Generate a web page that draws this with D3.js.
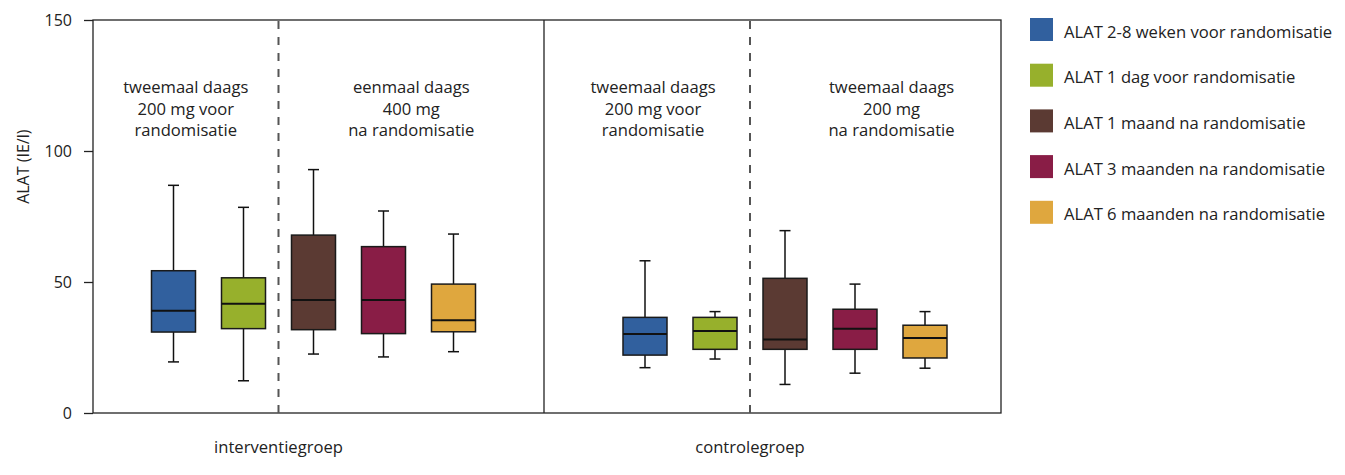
<!DOCTYPE html>
<html>
<head>
<meta charset="utf-8">
<script src="https://cdn.jsdelivr.net/npm/d3@7"></script>
<style>
  html, body { margin: 0; padding: 0; background: #fff; }
  svg { display: block; font-family: "Open Sans", "Noto Sans", sans-serif; }
</style>
</head>
<body>
<svg id="chart" width="1345" height="475"></svg>
<script>
// ---- data ----
const groups = ["interventiegroep", "controlegroep"];
const series = [
  "ALAT 2-8 weken voor randomisatie",
  "ALAT 1 dag voor randomisatie",
  "ALAT 1 maand na randomisatie",
  "ALAT 3 maanden na randomisatie",
  "ALAT 6 maanden na randomisatie"
];
const colors = ["#31609e", "#97b02c", "#5b3a33", "#891d46", "#dfa73e"];
// [min, Q1, median, Q3, max] per series, per group
const interventie = [
  [19.5, 30.9, 39.0, 54.3, 86.9],
  [12.3, 32.2, 41.7, 51.6, 78.5],
  [22.5, 31.8, 43.1, 67.9, 92.9],
  [21.4, 30.3, 43.1, 63.5, 77.1],
  [23.4, 31.0, 35.4, 49.2, 68.3]
];
const controle = [
  [17.3, 22.1, 30.2, 36.5, 58.1],
  [20.6, 24.3, 31.3, 36.5, 38.7],
  [10.9, 24.3, 28.1, 51.4, 69.6],
  [15.2, 24.3, 32.2, 39.6, 49.2],
  [17.1, 21.0, 28.6, 33.5, 38.7]
];
const yTicks = [0, 50, 100, 150];
const annotations = [
  ["tweemaal daags", "200 mg voor", "randomisatie"],
  ["eenmaal daags", "400 mg", "na randomisatie"],
  ["tweemaal daags", "200 mg voor", "randomisatie"],
  ["tweemaal daags", "200 mg", "na randomisatie"]
];

// ---- layout ----
(function () {
const svg = d3.select("#chart");
const pLeft = 93, pRight = 1001, pTop = 20, pBottom = 413, sepX = 544;
const fs = 16.6;
const y = d3.scaleLinear().domain([0, 150]).range([pBottom, pTop]);
const xInner = [
  d3.scalePoint().domain(series).range([173.5, 453.5]),
  d3.scalePoint().domain(series).range([645, 925])
];
const boxW = 44, capW = 11;
const dashX = xInner.map(s => (s(series[1]) + s(series[2])) / 2);

// y axis
const yAxis = d3.axisLeft(y).tickValues(yTicks).tickSize(9).tickPadding(12);
const ga = svg.append("g").attr("transform", `translate(${pLeft},0)`).call(yAxis);
ga.select(".domain").remove();
ga.selectAll(".tick line").attr("stroke", "#222").attr("stroke-width", 1.3);
ga.selectAll(".tick text").attr("font-size", 16).attr("fill", "#222")
  .attr("font-family", "'Open Sans', sans-serif");

svg.append("text")
  .attr("transform", `translate(29,${y(94)}) rotate(-90)`)
  .attr("text-anchor", "middle")
  .attr("font-size", 16).attr("fill", "#222")
  .text("ALAT (IE/l)");

// frame
svg.append("rect").attr("x", pLeft).attr("y", pTop)
  .attr("width", pRight - pLeft).attr("height", pBottom - pTop)
  .attr("fill", "none").attr("stroke", "#222").attr("stroke-width", 1.3);
svg.append("line").attr("x1", sepX).attr("x2", sepX).attr("y1", pTop).attr("y2", pBottom)
  .attr("stroke", "#222").attr("stroke-width", 1.3);
dashX.forEach(dx => {
  svg.append("line").attr("x1", dx).attr("x2", dx).attr("y1", pTop + 1).attr("y2", pBottom)
    .attr("stroke", "#555").attr("stroke-width", 2).attr("stroke-dasharray", "8,8");
});

// boxes
[interventie, controle].forEach((data, gi) => {
  const xs = xInner[gi];
  const g = svg.append("g");
  data.forEach((d, i) => {
    const cx = xs(series[i]);
    const [mn, q1, md, q3, mx] = d;
    const s = g.append("g");
    s.append("line").attr("x1", cx).attr("x2", cx).attr("y1", y(mx)).attr("y2", y(q3))
      .attr("stroke", "#111").attr("stroke-width", 1.5);
    s.append("line").attr("x1", cx).attr("x2", cx).attr("y1", y(q1)).attr("y2", y(mn))
      .attr("stroke", "#111").attr("stroke-width", 1.5);
    [mn, mx].forEach(v => s.append("line")
      .attr("x1", cx - capW / 2).attr("x2", cx + capW / 2).attr("y1", y(v)).attr("y2", y(v))
      .attr("stroke", "#111").attr("stroke-width", 1.5));
    s.append("rect").attr("x", cx - boxW / 2).attr("y", y(q3))
      .attr("width", boxW).attr("height", y(q1) - y(q3))
      .attr("fill", colors[i]).attr("stroke", "#1a1a1a").attr("stroke-width", 1.5);
    s.append("line").attr("x1", cx - boxW / 2).attr("x2", cx + boxW / 2)
      .attr("y1", y(md)).attr("y2", y(md))
      .attr("stroke", "#111").attr("stroke-width", 2);
  });
  // group label centered at dashed line
  svg.append("text").attr("x", dashX[gi]).attr("y", 453)
    .attr("text-anchor", "middle").attr("font-size", fs).attr("fill", "#222")
    .text(groups[gi]);
});

// annotations
const annX = [
  (pLeft + dashX[0]) / 2,
  (dashX[0] + sepX) / 2,
  (sepX + dashX[1]) / 2 + 6,
  (dashX[1] + pRight) / 2 + 16
];
annotations.forEach((lines, i) => {
  const t = svg.append("text").attr("text-anchor", "middle")
    .attr("font-size", fs).attr("fill", "#222");
  lines.forEach((ln, j) => {
    t.append("tspan").attr("x", annX[i]).attr("y", 93 + j * 21.5).text(ln);
  });
});

// legend
const lg = svg.append("g").attr("transform", "translate(1030,18)");
series.forEach((s, i) => {
  const row = lg.append("g").attr("transform", `translate(0,${i * 45.7})`);
  row.append("rect").attr("width", 23).attr("height", 23).attr("fill", colors[i]);
  row.append("text").attr("x", 34).attr("y", 19.5).attr("font-size", fs)
    .attr("fill", "#222").text(s);
});
})();
</script>
</body>
</html>
